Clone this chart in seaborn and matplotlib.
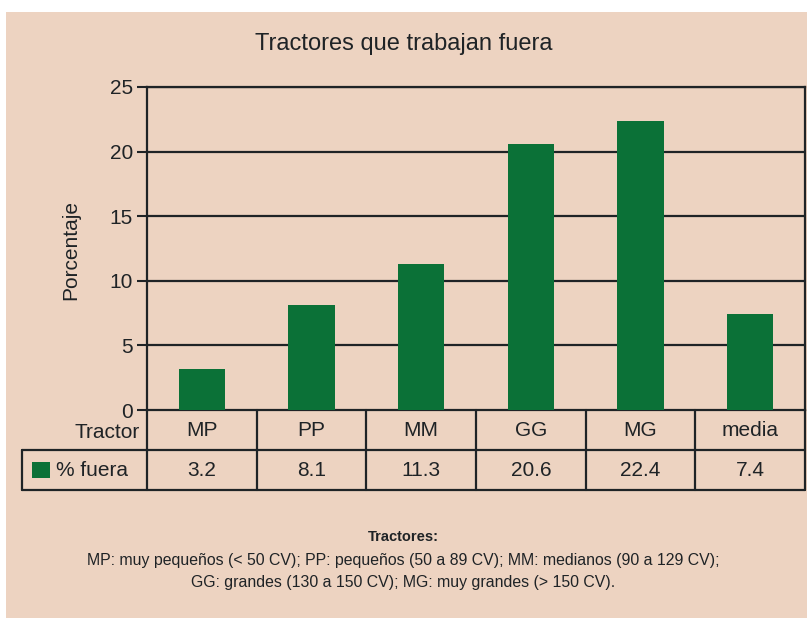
import matplotlib
matplotlib.use("Agg")
import matplotlib.pyplot as plt
import matplotlib.transforms as mtransforms
from matplotlib.patches import Rectangle
import pandas as pd
import seaborn as sns

# data
tractores = ["MP", "PP", "MM", "GG", "MG", "media"]
pct_fuera = [3.2, 8.1, 11.3, 20.6, 22.4, 7.4]
y_ticks = [0, 5, 10, 15, 20, 25]
serie = "% fuera"
titulo = "Tractores que trabajan fuera"
nota_titulo = "Tractores:"
nota_lineas = ["MP: muy pequeños (< 50 CV); PP: pequeños (50 a 89 CV); MM: medianos (90 a 129 CV);",
               "GG: grandes (130 a 150 CV); MG: muy grandes (> 150 CV)."]

BG = "#EDD3C1"
GREEN = "#0B7137"
INK = "#1f2326"

sns.set_theme(style="white")
plt.rcParams["font.family"] = ["Liberation Sans", "DejaVu Sans"]

df = pd.DataFrame({"tractor": tractores, "pct": pct_fuera})

W, H = 807, 618
fig = plt.figure(figsize=(W / 100, H / 100), dpi=100)
fig.patch.set_facecolor("white")
# peach panel
fig.patches.append(Rectangle((6 / W, 0), 1, 1 - 12 / H, transform=fig.transFigure,
                             facecolor=BG, edgecolor="none", zorder=-10))

ax = fig.add_axes([147 / W, 1 - 410 / H, 658 / W, 323 / H])
ax.set_facecolor(BG)

for t in y_ticks[1:]:
    ax.axhline(t, color=INK, lw=1.6, zorder=1)

sns.barplot(data=df, x="tractor", y="pct", color=GREEN, width=0.42,
            saturation=1, linewidth=0, edgecolor="none", ax=ax, zorder=3)

ax.set_ylim(0, 25)
ax.set_xlim(-0.5, len(tractores) - 0.5)
ax.set_yticks(y_ticks)
ax.set_yticklabels([str(t) for t in y_ticks], fontsize=15, color=INK)
ax.set_xticks([])
ax.set_xlabel("")
ax.set_ylabel("Porcentaje", fontsize=15, color=INK)
ax.yaxis.set_label_coords((80 - 147) / 658, 160 / 323)
ax.tick_params(axis="y", direction="out", length=7, width=1.5, color=INK, pad=3, left=True)
for s in ax.spines.values():
    s.set_color(INK)
    s.set_linewidth(1.6)
    s.set_visible(True)

fig.text(0.5, 1 - 44 / H, titulo, ha="center", va="center", fontsize=17, color=INK)

# table under the bars
trans = mtransforms.blended_transform_factory(ax.transData, ax.transAxes)
y_hdr = -40 / 323
y_bot = -80 / 323
x_left = (22 - 147) / 658
kw = dict(color=INK, lw=1.6, clip_on=False, zorder=5)
for i in range(len(tractores) + 1):
    ax.plot([i - 0.5, i - 0.5], [0, y_bot], transform=trans, **kw)
ax.plot([x_left, 1], [y_hdr, y_hdr], transform=ax.transAxes, **kw)
ax.plot([x_left, 1], [y_bot, y_bot], transform=ax.transAxes, **kw)
ax.plot([x_left, x_left], [y_hdr, y_bot], transform=ax.transAxes, **kw)

for i, (name, v) in enumerate(zip(tractores, pct_fuera)):
    ax.text(i, y_hdr / 2, name, transform=trans, ha="center", va="center",
            fontsize=15, color=INK)
    ax.text(i, (y_hdr + y_bot) / 2, f"{v:.1f}", transform=trans, ha="center",
            va="center", fontsize=15, color=INK)

ax.text(-7 / 658, -22 / 323, "Tractor", transform=ax.transAxes, ha="right",
        va="center", fontsize=15, color=INK)
ax.add_patch(Rectangle(((32 - 147) / 658, (y_hdr + y_bot) / 2 - 8 / 323), 18 / 658, 16 / 323,
                       transform=ax.transAxes, facecolor=GREEN, edgecolor="none",
                       clip_on=False, zorder=5))
ax.text((56 - 147) / 658, (y_hdr + y_bot) / 2, serie, transform=ax.transAxes,
        ha="left", va="center", fontsize=15, color=INK)

# footnote
fig.text(0.5, 1 - 537 / H, nota_titulo, ha="center", va="center", fontsize=10.5,
         fontweight="bold", color=INK)
for k, line in enumerate(nota_lineas):
    fig.text(0.5, 1 - (560 + 22 * k) / H, line, ha="center", va="center",
             fontsize=11.4, color=INK)

fig.savefig("out.png", dpi=100, facecolor=fig.get_facecolor())
